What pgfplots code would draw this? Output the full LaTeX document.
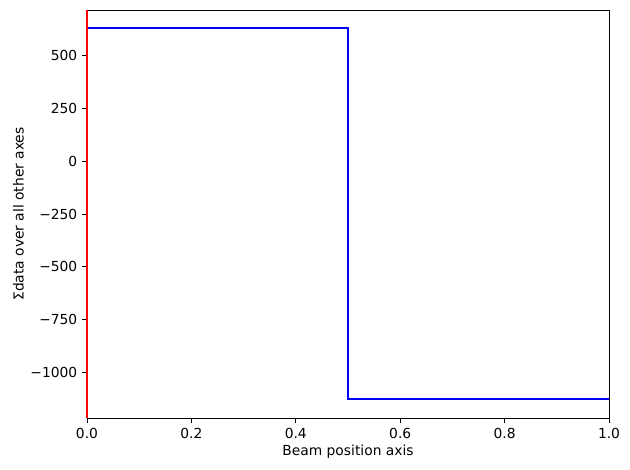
\documentclass[border=0pt]{standalone}
\usepackage{fontspec}
\setmainfont{DejaVu Sans}
\usepackage{pgfplots}
\pgfplotsset{compat=1.18}
\begin{document}
\fontsize{10pt}{12pt}\selectfont
\begin{tikzpicture}
\useasboundingbox (-0.87in,-0.52in) rectangle (5.43in,4.18in);
\begin{axis}[
    at={(0,0)}, anchor=south west,
    scale only axis,
    width=5.22in, height=4.08in,
    xmin=0, xmax=1,
    ymin=-1218, ymax=718,
    xtick={0,0.2,0.4,0.6,0.8,1.0},
    xticklabels={0.0,0.2,0.4,0.6,0.8,1.0},
    ytick={-1000,-750,-500,-250,0,250,500},
    yticklabels={−1000,−750,−500,−250,0,250,500},
    tick align=outside,
    major tick length=3.5pt,
    every tick/.style={black, line width=0.7pt},
    axis line style={line width=0.7pt},
    xtick pos=bottom, ytick pos=left,
    xlabel={Beam position axis},
    ylabel={Σdata over all other axes},
    tick label style={font=\fontsize{10pt}{12pt}\selectfont},
    label style={font=\fontsize{10pt}{12pt}\selectfont},
    xlabel style={yshift=2pt},
    ylabel style={yshift=-2pt},
    /pgf/number format/assume math mode=true,
    clip=false,
]
\addplot[blue, line width=1.5pt, const plot mark left] coordinates {
    (0,633) (0.5,-1130) (1,-1130)
};
\addplot[red, line width=0.9pt] coordinates {(0,-1218) (0,718)};
\end{axis}
\end{tikzpicture}
\end{document}
